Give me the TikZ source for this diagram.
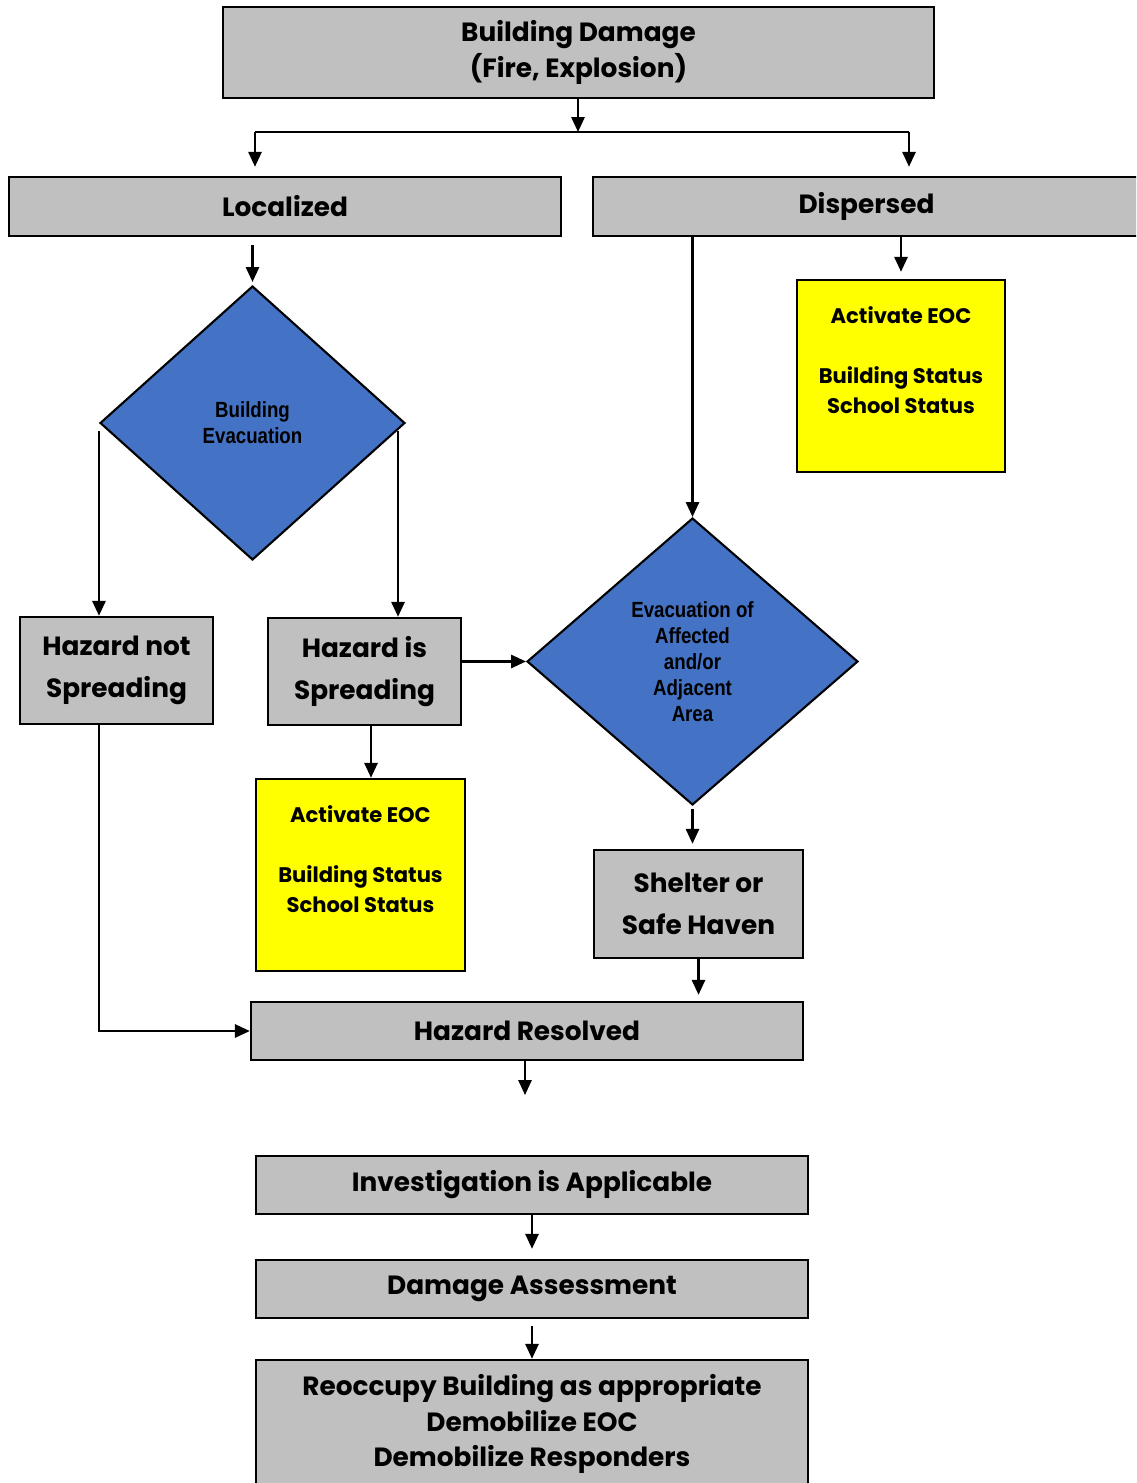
\documentclass[tikz,border=0pt]{standalone}
\usepackage{fontspec}
\setmainfont{Poppins}
\newfontfamily\diafont[FakeStretch=0.85]{Liberation Sans}
\usetikzlibrary{arrows.meta,shapes.geometric,positioning}

\definecolor{boxgray}{HTML}{C0C0C0}
\definecolor{diablue}{HTML}{4472C4}
\definecolor{eocyellow}{HTML}{FFFF00}

\begin{document}
\begin{tikzpicture}[x=0.02cm,y=-0.02cm,>={Triangle[length=8.5pt,width=7.5pt]},line width=1.35pt,
  box/.style={rectangle,draw=black,line width=1.4pt,fill=boxgray,inner sep=0pt,align=center,font=\bfseries\fontsize{15}{20}\selectfont},
  eocbox/.style={rectangle,draw=black,line width=1.4pt,fill=eocyellow,inner sep=0pt,minimum width=4.16cm,minimum height=3.84cm},
  eoctext/.style={align=center,font=\bfseries\fontsize{12}{17}\selectfont,yshift=9pt},
  decision/.style={diamond,draw=black,line width=1.2pt,fill=diablue,inner sep=0pt,align=center,font=\diafont\bfseries\fontsize{12.5}{14.7}\selectfont}]
\useasboundingbox (0,0) rectangle (1136,1483);
\clip (0,0) rectangle (1136,1483);

\node[box,minimum width=14.22cm,minimum height=1.82cm] (dmg) at (578.5,52.5) {Building Damage\\(Fire, Explosion)};
\node[box,minimum width=11.04cm,minimum height=1.18cm] (loc) at (285,206.5) {Localized};
\node[box,minimum width=10.94cm,minimum height=1.18cm] (disp) at (866.5,206.5) {Dispersed};

\node[decision,minimum width=6.1cm,minimum height=5.48cm] (bevac) at (252.5,423) {Building\\Evacuation};
\node[decision,minimum width=6.62cm,minimum height=5.74cm] (aevac) at (692.5,661.5) {Evacuation of\\Affected\\and/or\\Adjacent\\Area};

\node[box,minimum width=3.86cm,minimum height=2.14cm,font=\bfseries\fontsize{15}{24}\selectfont] (hns) at (116.5,670.5) {Hazard not\\Spreading};
\node[box,minimum width=3.86cm,minimum height=2.14cm,font=\bfseries\fontsize{15}{24}\selectfont] (his) at (364.5,671.5) {Hazard is\\Spreading};

\node[eocbox,label={[eoctext,name=eocDtxt]center:{Activate EOC\\[17pt]Building Status\\School Status}}] (eocD) at (901,376) {};
\node[eocbox,minimum width=4.18cm,label={[eoctext,name=eocLtxt]center:{Activate EOC\\[17pt]Building Status\\School Status}}] (eocL) at (360.5,875) {};

\node[box,minimum width=4.18cm,minimum height=2.16cm,font=\bfseries\fontsize{15}{24}\selectfont] (shelter) at (698.5,904) {Shelter or\\Safe Haven};
\node[box,minimum width=11.04cm,minimum height=1.16cm] (resolved) at (527,1031) {Hazard Resolved};
\node[box,minimum width=11.04cm,minimum height=1.16cm] (invest) at (532,1185) {Investigation is Applicable};
\node[box,minimum width=11.04cm,minimum height=1.16cm] (assess) at (532,1289) {Damage Assessment};
\node[box,minimum width=11.04cm,minimum height=2.56cm,font=\bfseries\fontsize{15}{20.4}\selectfont] (reocc) at (532,1424) {Reoccupy Building as appropriate\\Demobilize EOC\\Demobilize Responders};

% split below the top box
\coordinate (split) at (578,132);
\coordinate (splitL) at (255,132);
\coordinate (splitR) at (909,132);
\draw[->] (dmg.south -| split) -- (split);
\draw (splitL) -- (splitR);
\draw[->,shorten >=0.18cm] (splitL) -- (splitL |- loc.north);
\draw[->,shorten >=0.18cm] (splitR) -- (splitR |- disp.north);

% localized branch
\draw[->,shorten <=0.16cm,shorten >=0.06cm] (bevac.north |- loc.south) -- (bevac.north);
\draw[->] ([yshift=-0.16cm]bevac.west) -- (bevac.west |- hns.north);
\coordinate (brk) at ([xshift=-0.16cm,yshift=-0.16cm]bevac.east);
\draw[->] (brk) -- (brk |- his.north);
\draw[->] (his.east |- aevac.west) -- (aevac.west);
\coordinate (hisout) at ([xshift=0.13cm]his.south);
\draw[->] (hisout) -- (hisout |- eocL.north);
\draw[->] (bevac.west |- hns.south) |- (resolved.west);

% dispersed branch
\draw[->] (aevac.north |- disp.south) -- (aevac.north);
\draw[->,shorten >=0.14cm] (eocD.north |- disp.south) -- (eocD.north);
\draw[->,shorten <=0.06cm,shorten >=0.1cm] (aevac.south) -- (aevac.south |- shelter.north);
\draw[->,shorten >=0.12cm] (shelter.south) -- (shelter.south |- resolved.north);

% closing steps
\coordinate (resend) at (525,1095);
\draw[->] (resolved.south -| resend) -- (resend);
\draw[->,shorten >=0.2cm] (invest.south) -- (assess.north);
\draw[->,shorten <=0.14cm] (assess.south) -- (reocc.north);
\end{tikzpicture}
\end{document}
